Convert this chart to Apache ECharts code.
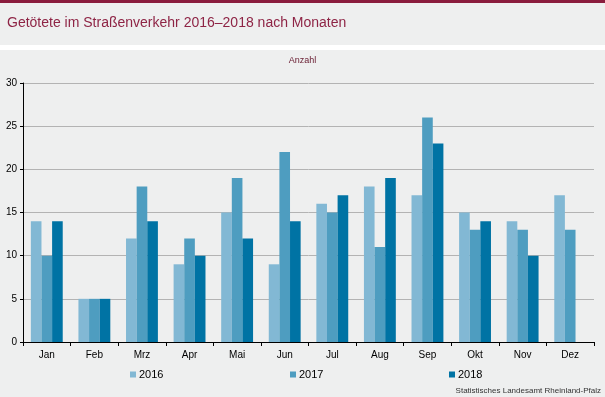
<!DOCTYPE html>
<html lang="de">
<head>
<meta charset="UTF-8">
<title>Getötete im Straßenverkehr</title>
<script src="https://cdn.jsdelivr.net/npm/echarts@6/dist/echarts.min.js"></script>
<style>
  html, body { margin: 0; padding: 0; background: #fff; }
  #main { width: 605px; height: 397px; }
</style>
</head>
<body>
<div id="main"></div>
<script>
var months = ['Jan', 'Feb', 'Mrz', 'Apr', 'Mai', 'Jun', 'Jul', 'Aug', 'Sep', 'Okt', 'Nov', 'Dez'];
var values2016 = [14, 5, 12, 9, 15, 9, 16, 18, 17, 15, 14, 17];
var values2017 = [10, 5, 18, 12, 19, 22, 15, 11, 26, 13, 13, 13];
var values2018 = [14, 5, 14, 10, 12, 14, 17, 19, 23, 14, 10, null];
var yTicks = [0, 5, 10, 15, 20, 25, 30];

var font = '"Liberation Sans", Arial, sans-serif';
var maroon = '#8a1c3d';

var myChart = echarts.init(document.getElementById('main'));

function legendFor(name, left) {
    return {
        data: [name],
        left: left,
        top: 369,
        itemWidth: 6,
        itemHeight: 6,
        itemGap: 3,
        padding: 0,
        icon: 'rect',
        textStyle: { fontFamily: font, fontSize: 11, color: '#000', padding: [0, 0, 0, -2] }
    };
}

var option = {
    backgroundColor: '#ffffff',
    animation: false,
    graphic: [
        { type: 'rect', shape: { x: 0, y: 0, width: 605, height: 45 }, style: { fill: '#eeefef' }, z: -10 },
        { type: 'rect', shape: { x: 0, y: 50, width: 605, height: 347 }, style: { fill: '#eeefef' }, z: -10 },
        { type: 'rect', shape: { x: 0, y: 0, width: 605, height: 3 }, style: { fill: maroon }, z: -9 },
        {
            type: 'text', left: 7, top: 16,
            style: { text: 'Getötete im Straßenverkehr 2016–2018 nach Monaten', fill: '#8e2445', font: '14px ' + font }
        },
        {
            type: 'text', left: 'center', top: 56,
            style: { text: 'Anzahl', fill: '#6b2035', font: '9px ' + font }
        },
        {
            type: 'text', right: 4, top: 387,
            style: { text: 'Statistisches Landesamt Rheinland-Pfalz', fill: '#333', font: '8px ' + font }
        }
    ],
    legend: [legendFor('2016', 130), legendFor('2017', 290), legendFor('2018', 449)],
    grid: { left: 23, right: 11, top: 83, bottom: 55, containLabel: false },
    xAxis: {
        type: 'category',
        data: months,
        axisLine: { lineStyle: { color: '#000', width: 1 } },
        axisTick: { show: true, length: 4, lineStyle: { color: '#000' } },
        axisLabel: { fontFamily: font, fontSize: 10, color: '#000', margin: 8 }
    },
    yAxis: {
        type: 'value',
        min: yTicks[0],
        max: yTicks[yTicks.length - 1],
        interval: 5,
        axisLine: { show: true, lineStyle: { color: '#000', width: 1 } },
        axisTick: { show: true, length: 3, lineStyle: { color: '#000' } },
        axisLabel: { fontFamily: font, fontSize: 10, color: '#000', margin: 6 },
        splitLine: { lineStyle: { color: '#b3b3b3', width: 1 } }
    },
    series: [
        { name: '2016', type: 'bar', data: values2016, barGap: '0%', barCategoryGap: '33%', itemStyle: { color: '#82b8d4' } },
        { name: '2017', type: 'bar', data: values2017, barGap: '0%', barCategoryGap: '33%', itemStyle: { color: '#4e9dc0' } },
        { name: '2018', type: 'bar', data: values2018, barGap: '0%', barCategoryGap: '33%', itemStyle: { color: '#0073a4' } }
    ]
};

myChart.setOption(option);
</script>
</body>
</html>
